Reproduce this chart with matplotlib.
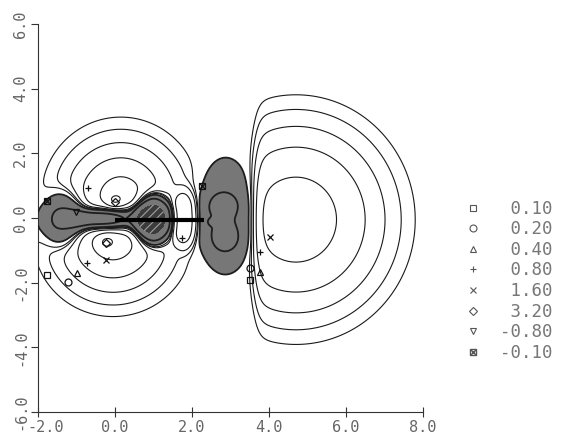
import numpy as np
import matplotlib.pyplot as plt
import matplotlib.transforms as mtransforms
from matplotlib.lines import Line2D

# contour levels, from the legend
pos_levels = [0.10, 0.20, 0.40, 0.80, 1.60, 3.20]
neg_levels = [-0.80, -0.10]
legend_labels = [" 0.10", " 0.20", " 0.40", " 0.80", " 1.60", " 3.20", "-0.80", "-0.10"]
legend_marks = ["s", "o", "^", "+", "x", "D", "v", "bx"]

# lobes (amplitude, centre, widths, shape, cut side)
lobe_amp = [2.5, 2.5, 2.3, 1.0, 1.5, 1.5, -1.0, -1.2, -3.5, -0.75, -0.8, -0.8, -0.4]
lobe_cx = [0.15, -0.05, 4.7, 1.8, 0.0, -0.22, -1.3, -0.35, 0.95, 2.84, 2.8, 2.86, 2.5]
lobe_cy = [0.6, -0.65, -0.05, -0.03, 0.55, -0.75, -0.05, -0.02, -0.03, 0.07, 0.4, -0.65, -0.12]
lobe_sx = [0.95, 0.95, 1.75, 0.35, 0.2, 0.2, 0.55, 0.8, 0.45, 0.62, 0.36, 0.38, 0.12]
lobe_sy = [1.156, 1.1, 2.18, 0.9, 0.2, 0.2, 0.82, 0.28, 0.72, 1.39, 0.34, 0.44, 0.12]
lobe_p = [1.5, 1.5, 2.0, 4.0, 2.0, 2.0, 3.0, 3.0, 3.0, 2.5, 2.0, 2.0, 2.0]
lobe_side = ["y+", "y-", "x+", "", "", "", "", "", "", "", "", "", ""]
lobe_node = [0.35, -0.4, 3.65, 0, 0, 0, 0, 0, 0, 0, 0, 0, 0]
lobe_edge = [0.1, 0.1, 0.09, 1, 1, 1, 1, 1, 1, 1, 1, 1, 1]

# contour tags as placed on the original plot
mark_x = [-1.77, 2.26, -1.01, -0.70, -0.73, 3.77, 1.74, -0.23, 4.03, 0.0, -0.23,
          -1.22, 3.5, -0.99, 3.77, -1.77, 3.5]
mark_y = [0.52, 0.99, 0.19, 0.93, -1.39, -1.05, -0.62, -1.30, -0.59, 0.49, -0.77,
          -1.98, -1.55, -1.70, -1.67, -1.76, -1.92]
mark_kind = ["bx", "bx", "v", "+", "+", "+", "+", "x", "x", "D", "D",
             "o", "o", "^", "^", "s", "s"]

bond_x = [0.0, 2.3]
bond_y = [-0.05, -0.05]


def lobe(X, Y, a, cx, cy, sx, sy, p, side, node, edge):
    d = np.hypot((X - cx) / sx, (Y - cy) / sy)
    f = a * np.exp(-d ** p)
    if side == "x+":
        f = f / (1 + np.exp(np.clip(-(X - node) / edge, -50, 50)))
    elif side == "y+":
        f = f / (1 + np.exp(np.clip(-(Y - node) / edge, -50, 50)))
    elif side == "y-":
        f = f / (1 + np.exp(np.clip((Y - node) / edge, -50, 50)))
    return f


x = np.linspace(-2, 8, 500)
y = np.linspace(-6, 6, 600)
X, Y = np.meshgrid(x, y)
F = np.zeros_like(X)
for i in range(len(lobe_amp)):
    F += lobe(X, Y, lobe_amp[i], lobe_cx[i], lobe_cy[i], lobe_sx[i], lobe_sy[i],
              lobe_p[i], lobe_side[i], lobe_node[i], lobe_edge[i])

plt.rcParams["hatch.color"] = "#a0a0a0"
plt.rcParams["hatch.linewidth"] = 0.8
mono = "DejaVu Sans Mono"

fig = plt.figure(figsize=(5.62, 4.36), dpi=100)
ax = fig.add_axes([0.0676, 0.055, 0.685, 0.89])

ax.contour(X, Y, F, levels=pos_levels, colors="#1a1a1a", linewidths=0.8, zorder=1)
ax.contourf(X, Y, F, levels=[F.min() - 1, -2.0, -0.1],
            colors=["#3c3c3c", "#777777"], hatches=["////", None], zorder=2)
ax.contour(X, Y, F, levels=neg_levels, colors="#1e1e1e", linewidths=1.3,
           linestyles="solid", zorder=3)
ax.plot(bond_x, bond_y, color="black", lw=3, solid_capstyle="butt", zorder=4)

marker_of = {"s": "s", "o": "o", "^": "^", "+": "+", "x": "x", "D": "D", "v": "v"}
for mx, my, k in zip(mark_x, mark_y, mark_kind):
    if k == "bx":
        ax.plot(mx, my, marker="s", ms=5, mfc="none", mec="#111", mew=0.9, zorder=5)
        ax.plot(mx, my, marker="x", ms=4, mec="#111", mew=0.9, zorder=5)
    else:
        ms = 4 if k == "D" else 5
        ax.plot(mx, my, marker=marker_of[k], ms=ms, mfc="none", mec="#111",
                mew=0.9, zorder=5)

ax.set_xlim(-2, 8)
ax.set_ylim(-6, 6)
ax.set_xticks(np.arange(-2, 9, 2))
ax.set_yticks(np.arange(-6, 7, 2))
ax.set_xticklabels([f"{v:.1f}" for v in np.arange(-2, 9, 2)], family=mono,
                   fontsize=11, color="#666")
ax.set_yticklabels([f"{v:.1f}" for v in np.arange(-6, 7, 2)], family=mono,
                   fontsize=11, color="#666", rotation=90, va="center")
ax.tick_params(axis="x", direction="inout", length=7, width=0.8, color="#333", pad=2)
ax.tick_params(axis="y", direction="out", length=5, width=0.8, color="#333", pad=2)
# the first x label sits a little to the right of its tick, clear of "-6.0"
first = ax.get_xticklabels()[0]
first.set_transform(first.get_transform()
                    + mtransforms.ScaledTranslation(8 / 100, 0, fig.dpi_scale_trans))
for s in ["top", "right"]:
    ax.spines[s].set_visible(False)
for s in ["left", "bottom"]:
    ax.spines[s].set_color("#333")
    ax.spines[s].set_linewidth(0.8)

handles = []
for k in legend_marks:
    if k == "bx":
        handles.append((Line2D([], [], ls="", marker="s", ms=5, mfc="none", mec="#555"),
                        Line2D([], [], ls="", marker="x", ms=4, mec="#555")))
    else:
        handles.append(Line2D([], [], ls="", marker=marker_of[k], ms=5 if k != "D" else 4,
                              mfc="none", mec="#555", mew=0.8))
fig.legend(handles, legend_labels, loc="upper left", bbox_to_anchor=(0.81, 0.562),
           frameon=False, prop={"family": mono, "size": 12.5}, labelcolor="#777",
           handlelength=1.0, handletextpad=1.1, labelspacing=0.15, borderpad=0)

fig.savefig("out.png", dpi=100)
